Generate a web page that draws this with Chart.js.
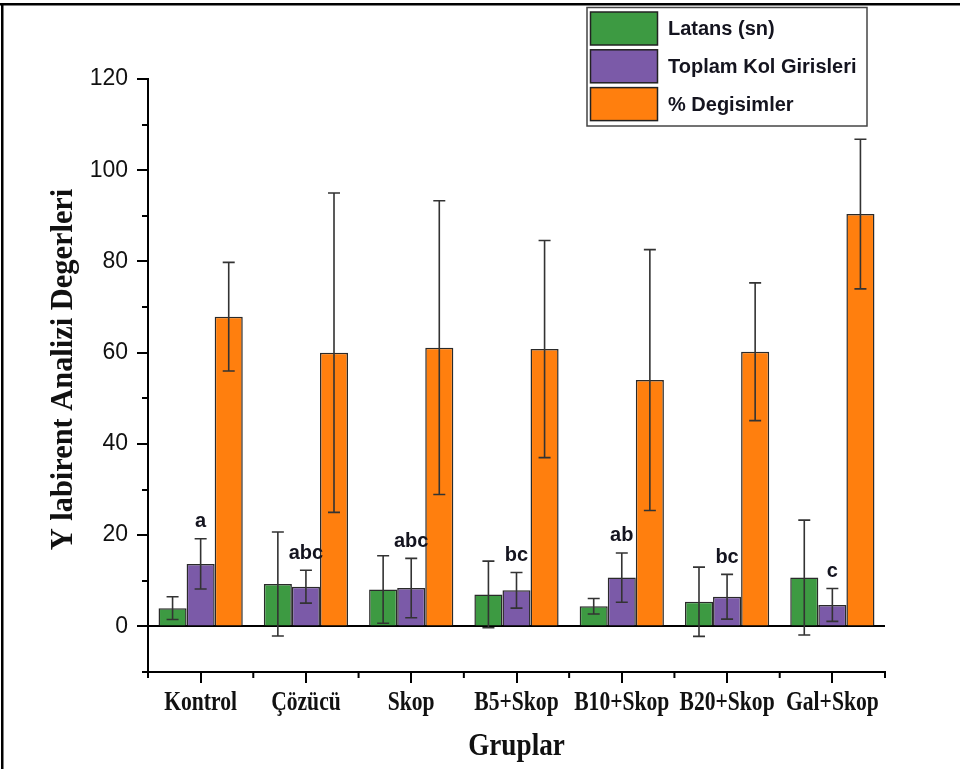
<!DOCTYPE html>
<html>
<head>
<meta charset="utf-8">
<script src="https://cdn.jsdelivr.net/npm/chart.js@4.4.1/dist/chart.umd.min.js"></script>
<style>
  html, body { margin: 0; padding: 0; background: #fff; }
  canvas { display: block; }
</style>
</head>
<body>
<canvas id="chart" width="960" height="769"></canvas>
<script>
// Groups and series
const categories = ['Kontrol', 'Çözücü', 'Skop', 'B5+Skop', 'B10+Skop', 'B20+Skop', 'Gal+Skop'];
const seriesNames = ['Latans (sn)', 'Toplam Kol Girisleri', '% Degisimler'];

// Means and error (± SD)
const latans      = [4.0, 9.3, 8.1, 7.0, 4.4, 5.4, 10.7];
const latansErr   = [2.5, 11.4, 7.4, 7.3, 1.7, 7.6, 12.6];
const kolGiris    = [13.7, 8.7, 8.4, 7.9, 10.7, 6.5, 4.7];
const kolGirisErr = [5.5, 3.6, 6.5, 3.9, 5.4, 4.9, 3.6];
const degisim     = [67.9, 60.0, 61.1, 60.8, 54.0, 60.2, 90.4];
const degisimErr  = [11.9, 35.0, 32.2, 23.8, 28.6, 15.1, 16.4];

// Significance letters above the arm-entry bars
const sigLetters = ['a', 'abc', 'abc', 'bc', 'ab', 'bc', 'c'];

// Axis ticks
const yMajorTicks = [0, 20, 40, 60, 80, 100, 120];
const yMinorTicks = [-10, 10, 30, 50, 70, 90, 110];

const colors = ['#3d9a42', '#7b5aa8', '#ff7f0e'];
const errors = [latansErr, kolGirisErr, degisimErr];
const SERIF = '"Liberation Serif", "Times New Roman", serif';
const SANS = '"Liberation Sans", Arial, sans-serif';

// Narrow bold serif text, drawn with a horizontal squeeze
function condensedText(ctx, text, x, y, size, squeeze, rotate) {
  ctx.save();
  ctx.translate(x, y);
  if (rotate) ctx.rotate(-Math.PI / 2);
  ctx.scale(squeeze, 1);
  ctx.font = 'bold ' + size + 'px ' + SERIF;
  ctx.textAlign = 'center';
  ctx.textBaseline = 'middle';
  ctx.fillStyle = '#111';
  ctx.fillText(text, 0, 0);
  ctx.restore();
}

// Outer frame (left and top edges)
const framePlugin = {
  id: 'frame',
  beforeDraw(chart) {
    const ctx = chart.ctx;
    ctx.save();
    ctx.fillStyle = '#000';
    ctx.fillRect(0, 3, 960, 2.5);
    ctx.fillRect(1, 3, 2.5, 766);
    ctx.restore();
  }
};

// Error bars drawn from each dataset's values
const errorBarPlugin = {
  id: 'errorBars',
  afterDatasetsDraw(chart) {
    const ctx = chart.ctx;
    const y = chart.scales.y;
    ctx.save();
    ctx.strokeStyle = '#333';
    ctx.lineWidth = 1.6;
    chart.data.datasets.forEach((ds, i) => {
      const meta = chart.getDatasetMeta(i);
      const err = errors[i];
      meta.data.forEach((bar, j) => {
        const v = ds.data[j];
        const yt = y.getPixelForValue(v + err[j]);
        const yb = y.getPixelForValue(v - err[j]);
        const x = bar.x;
        ctx.beginPath();
        ctx.moveTo(x, yt); ctx.lineTo(x, yb);
        ctx.moveTo(x - 6, yt); ctx.lineTo(x + 6, yt);
        ctx.moveTo(x - 6, yb); ctx.lineTo(x + 6, yb);
        ctx.stroke();
      });
    });
    // letters above the second series
    const meta = chart.getDatasetMeta(1);
    ctx.fillStyle = '#14141f';
    ctx.font = 'bold 20px ' + SANS;
    ctx.textAlign = 'center';
    ctx.textBaseline = 'middle';
    meta.data.forEach((bar, j) => {
      const top = y.getPixelForValue(kolGiris[j] + kolGirisErr[j]);
      ctx.fillText(sigLetters[j], bar.x, top - 17);
    });
    ctx.restore();
  }
};

// Minor tick marks on both axes, group names and axis titles
const axisDecorPlugin = {
  id: 'axisDecor',
  afterDraw(chart) {
    const ctx = chart.ctx;
    const { x, y } = chart.scales;
    const area = chart.chartArea;
    ctx.save();
    ctx.strokeStyle = '#000';
    ctx.lineWidth = 2;
    ctx.beginPath();
    yMinorTicks.forEach(v => {
      const py = Math.round(y.getPixelForValue(v));
      ctx.moveTo(area.left - 6, py);
      ctx.lineTo(area.left, py);
    });
    const n = categories.length;
    for (let i = 0; i <= n; i++) {
      let px;
      if (i === 0) px = area.left;
      else if (i === n) px = area.right;
      else px = (x.getPixelForTick(i - 1) + x.getPixelForTick(i)) / 2;
      ctx.moveTo(px, area.bottom);
      ctx.lineTo(px, area.bottom + 6);
    }
    ctx.stroke();
    ctx.restore();

    // group names under the major ticks
    x.ticks.forEach((t, i) => {
      condensedText(ctx, x.getLabelForValue(t.value), x.getPixelForTick(i), area.bottom + 31, 27, 0.8, false);
    });
    // axis titles
    condensedText(ctx, 'Gruplar', (area.left + area.right) / 2, area.bottom + 75, 32, 0.85, false);
    condensedText(ctx, 'Y labirent Analizi Degerleri', 64, (area.top + area.bottom) / 2 - 6, 32, 0.95, true);
  }
};

// Legend box in the upper right
const legendBoxPlugin = {
  id: 'legendBox',
  afterDraw(chart) {
    const ctx = chart.ctx;
    ctx.save();
    ctx.strokeStyle = '#444';
    ctx.lineWidth = 1.5;
    ctx.strokeRect(587, 7.5, 280, 118.5);
    ctx.textBaseline = 'middle';
    ctx.textAlign = 'left';
    chart.data.datasets.forEach((ds, i) => {
      const top = 12 + i * 37.8;
      ctx.fillStyle = ds.backgroundColor;
      ctx.fillRect(590.5, top, 67, 33);
      ctx.strokeStyle = '#222';
      ctx.lineWidth = 1.5;
      ctx.strokeRect(590.5, top, 67, 33);
      ctx.font = 'bold 20px ' + SANS;
      ctx.fillStyle = '#14141f';
      ctx.fillText(ds.label, 668, top + 17.5);
    });
    ctx.restore();
  }
};

const datasets = [latans, kolGiris, degisim].map((d, i) => ({
  label: seriesNames[i],
  data: d,
  backgroundColor: colors[i],
  borderColor: '#2a2a2a',
  borderWidth: 1.5,
  categoryPercentage: 0.8,
  barPercentage: 1.0
}));

new Chart(document.getElementById('chart'), {
  type: 'bar',
  data: { labels: categories, datasets },
  options: {
    responsive: false,
    animation: false,
    devicePixelRatio: 1,
    layout: { padding: { top: 79, right: 75, bottom: 0, left: 0 } },
    plugins: {
      legend: { display: false },
      tooltip: { enabled: false }
    },
    scales: {
      x: {
        type: 'category',
        offset: true,
        afterFit(scale) { scale.height = 97; },
        grid: {
          offset: false,
          drawOnChartArea: false,
          color: '#000',
          tickColor: '#000',
          tickLength: 11,
          lineWidth: 2
        },
        border: { display: true, color: '#000', width: 2 },
        ticks: { display: false, autoSkip: false }
      },
      y: {
        min: -10,
        max: 120,
        afterFit(scale) { scale.width = 148; },
        afterBuildTicks(scale) { scale.ticks = yMajorTicks.map(v => ({ value: v })); },
        grid: {
          drawOnChartArea: true,
          color: ctx => (ctx.tick && ctx.tick.value === 0 ? '#000' : 'rgba(0,0,0,0)'),
          tickColor: '#000',
          tickLength: 11,
          lineWidth: 2
        },
        border: { display: true, color: '#000', width: 2 },
        ticks: {
          color: '#111',
          padding: 9,
          font: { family: SANS, size: 23 }
        }
      }
    }
  },
  plugins: [framePlugin, errorBarPlugin, axisDecorPlugin, legendBoxPlugin]
});
</script>
</body>
</html>
